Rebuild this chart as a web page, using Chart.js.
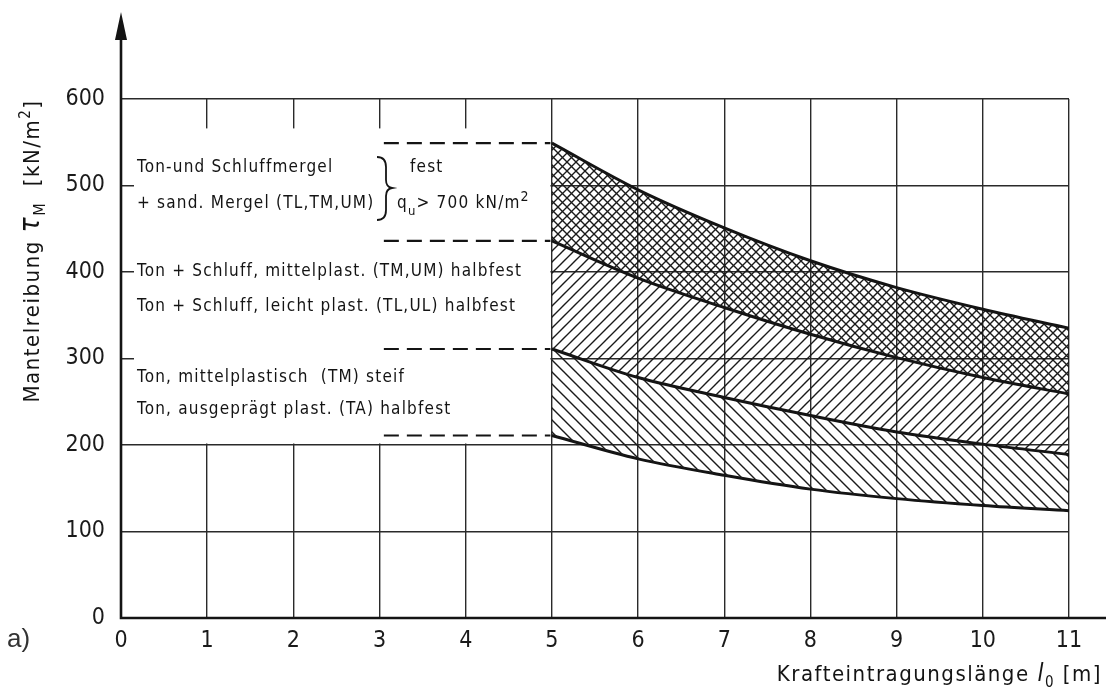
<!DOCTYPE html>
<html>
<head>
<meta charset="utf-8">
<script src="https://cdn.jsdelivr.net/npm/chart.js@4.4.1/dist/chart.umd.min.js"></script>
<style>
  html, body { margin: 0; padding: 0; background: #fff; }
  #wrap { width: 1106px; height: 696px; }
</style>
</head>
<body>
<div id="wrap"><canvas id="chart" width="1106" height="696"></canvas></div>
<script>
// values (x = length in m, y = kN/m2)
const lengths = [5, 6, 7, 8, 9, 10, 11];
const festUpper = [549, 495, 451, 413, 382, 357, 335];
const halbfestUpper = [436, 393, 359, 328, 301, 278, 259];
const steifUpper = [311, 278, 255, 234, 215, 201, 189];
const steifLower = [211, 184, 165, 149, 138, 130, 124];

const xTicks = [0, 1, 2, 3, 4, 5, 6, 7, 8, 9, 10, 11];
const yTicks = [0, 100, 200, 300, 400, 500, 600];

const legendLines = [
  'Ton-und Schluffmergel',
  '+ sand. Mergel (TL,TM,UM)',
  'fest',
  'Ton + Schluff, mittelplast. (TM,UM) halbfest',
  'Ton + Schluff, leicht plast. (TL,UL) halbfest',
  'Ton, mittelplastisch  (TM) steif',
  'Ton, ausgeprägt plast. (TA) halbfest'
];

const FONT = '"DejaVu Sans Condensed", "Liberation Sans Narrow", sans-serif';
const INK = '#141414';

const canvas = document.getElementById('chart');
const mainCtx = canvas.getContext('2d');

// hatch patterns for the three bands
function hatch(size, dirs, width) {
  const c = document.createElement('canvas');
  c.width = c.height = size;
  const g = c.getContext('2d');
  g.strokeStyle = '#1a1a1a';
  g.lineWidth = width;
  dirs.forEach(d => {
    g.beginPath();
    for (const o of [-size, 0, size]) {
      if (d === '/') { g.moveTo(o - 1, size + 1); g.lineTo(o + size + 1, -1); }
      else { g.moveTo(o - 1, -1); g.lineTo(o + size + 1, size + 1); }
    }
    g.stroke();
  });
  return mainCtx.createPattern(c, 'repeat');
}
const crossHatch = hatch(9, ['/', '\\'], 1.4);
const fwdHatch = hatch(11, ['/'], 1.4);
const backHatch = hatch(12, ['\\'], 1.4);

const pts = arr => lengths.map((x, i) => ({ x: x, y: arr[i] }));

// draws a run of text pieces (for sub/superscripts)
function rich(ctx, pieces, x, y, align) {
  let w = 0;
  pieces.forEach(p => { ctx.font = p.font; p.w = ctx.measureText(p.t).width; w += p.w; });
  let cx = align === 'center' ? x - w / 2 : align === 'right' ? x - w : x;
  pieces.forEach(p => {
    ctx.font = p.font;
    ctx.fillText(p.t, cx, y + (p.dy || 0));
    cx += p.w;
  });
}

const diagram = {
  id: 'diagram',
  beforeDatasetsDraw(chart) {
    const ctx = chart.ctx;
    const xs = chart.scales.x, ys = chart.scales.y;
    ctx.save();
    // blank area for the soil descriptions
    ctx.fillStyle = '#fff';
    const bx0 = 134, bx1 = xs.getPixelForValue(5) - 1.5;
    const by0 = ys.getPixelForValue(566), by1 = ys.getPixelForValue(200) - 1.5;
    ctx.fillRect(bx0, by0, bx1 - bx0, by1 - by0);

    // dashed boundary lines
    ctx.strokeStyle = INK;
    ctx.lineWidth = 2.2;
    ctx.setLineDash([15, 8]);
    [festUpper[0], halbfestUpper[0], steifUpper[0], steifLower[0]].forEach(v => {
      const py = ys.getPixelForValue(v);
      ctx.beginPath();
      ctx.moveTo(xs.getPixelForValue(3.05), py);
      ctx.lineTo(bx1, py);
      ctx.stroke();
    });
    ctx.setLineDash([]);

    // description text
    ctx.fillStyle = INK;
    ctx.textBaseline = 'middle';
    ctx.textAlign = 'left';
    ctx.letterSpacing = '1.2px';
    const f = '17px ' + FONT;
    ctx.font = f;
    const rows = [[137, 168], [137, 204], [410, 168], [137, 272], [137, 307], [137, 378], [137, 410]];
    legendLines.forEach((t, i) => ctx.fillText(t, rows[i][0], rows[i][1]));
    rich(ctx, [
      { t: 'q', font: f },
      { t: 'u', font: '13px ' + FONT, dy: 8 },
      { t: '> 700 kN/m', font: f },
      { t: '2', font: '14px ' + FONT, dy: -7 }
    ], 397, 204, 'left');

    // curly brace
    ctx.lineWidth = 1.8;
    ctx.beginPath();
    ctx.moveTo(377, 157);
    ctx.quadraticCurveTo(386, 157, 386, 167);
    ctx.lineTo(386, 180);
    ctx.quadraticCurveTo(386, 187, 392, 188);
    ctx.quadraticCurveTo(386, 189, 386, 196);
    ctx.lineTo(386, 210);
    ctx.quadraticCurveTo(386, 220, 377, 220);
    ctx.stroke();
    ctx.restore();
  },
  afterDraw(chart) {
    const ctx = chart.ctx;
    const a = chart.chartArea;
    ctx.save();
    ctx.strokeStyle = INK;
    ctx.fillStyle = INK;
    ctx.lineWidth = 2.6;
    // axes
    ctx.beginPath();
    ctx.moveTo(a.left, 36);
    ctx.lineTo(a.left, a.bottom);
    ctx.lineTo(1106, a.bottom);
    ctx.stroke();
    ctx.beginPath();
    ctx.moveTo(a.left, 12);
    ctx.lineTo(a.left - 6, 40);
    ctx.lineTo(a.left + 6, 40);
    ctx.closePath();
    ctx.fill();

    ctx.textBaseline = 'alphabetic';
    ctx.letterSpacing = '1.5px';
    // x title
    rich(ctx, [
      { t: 'Krafteintragungslänge ', font: '22px ' + FONT },
      { t: 'l', font: 'italic 24px ' + FONT },
      { t: '0', font: '15px ' + FONT, dy: 6 },
      { t: ' [m]', font: '22px ' + FONT }
    ], 1102, 681, 'right');

    // y title
    ctx.translate(39, 251);
    ctx.rotate(-Math.PI / 2);
    rich(ctx, [
      { t: 'Mantelreibung ', font: '22px ' + FONT },
      { t: 'τ', font: 'italic 28px ' + FONT },
      { t: 'M', font: '16px ' + FONT, dy: 6 },
      { t: '  [kN/m', font: '22px ' + FONT },
      { t: '2', font: '15px ' + FONT, dy: -9 },
      { t: ']', font: '22px ' + FONT }
    ], 0, 0, 'center');
    ctx.setTransform(1, 0, 0, 1, 0, 0);

    ctx.letterSpacing = '0px';
    ctx.fillStyle = '#333';
    ctx.font = '26px "Liberation Sans", Arial, sans-serif';
    ctx.textBaseline = 'middle';
    ctx.fillText('a)', 7, 640);
    ctx.restore();
  }
};

const common = {
  borderColor: INK,
  borderWidth: 3,
  pointRadius: 0,
  cubicInterpolationMode: 'monotone'
};

new Chart(canvas, {
  type: 'line',
  data: {
    datasets: [
      Object.assign({ data: pts(festUpper), fill: '+1', backgroundColor: crossHatch }, common),
      Object.assign({ data: pts(halbfestUpper), fill: '+1', backgroundColor: fwdHatch }, common),
      Object.assign({ data: pts(steifUpper), fill: '+1', backgroundColor: backHatch }, common),
      Object.assign({ data: pts(steifLower), fill: false }, common)
    ]
  },
  options: {
    responsive: false,
    animation: false,
    layout: { padding: { top: 99, right: 37, left: 0, bottom: 0 } },
    plugins: { legend: { display: false }, tooltip: { enabled: false } },
    scales: {
      x: {
        type: 'linear',
        min: 0,
        max: 11,
        afterFit: s => { s.height = 78; },
        afterBuildTicks: s => { s.ticks = xTicks.map(v => ({ value: v })); },
        grid: { color: '#2a2a2a', lineWidth: 1.4, drawTicks: false },
        border: { display: false },
        ticks: { color: '#1a1a1a', padding: 9, font: { family: FONT, size: 23 } }
      },
      y: {
        min: 0,
        max: 600,
        afterFit: s => { s.width = 121; },
        afterBuildTicks: s => { s.ticks = yTicks.map(v => ({ value: v })); },
        grid: { color: '#2a2a2a', lineWidth: 1.4, drawTicks: false },
        border: { display: false },
        ticks: { color: '#1a1a1a', padding: 16, font: { family: FONT, size: 23 } }
      }
    }
  },
  plugins: [diagram]
});
</script>
</body>
</html>
